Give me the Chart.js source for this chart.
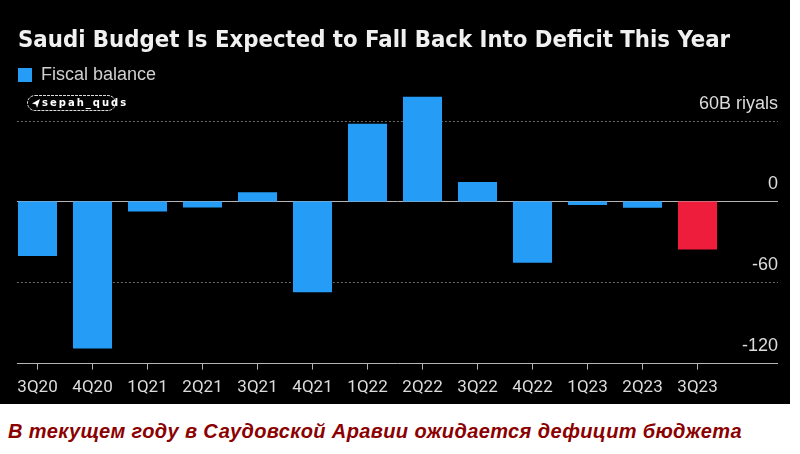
<!DOCTYPE html>
<html>
<head>
<meta charset="utf-8">
<script src="https://cdn.jsdelivr.net/npm/chart.js@4/dist/chart.umd.min.js"></script>
<style>
  body { margin: 0; background: #fff; width: 800px; height: 454px; overflow: hidden; position: relative; }
  #box { position: absolute; left: 0; top: 0; width: 790px; height: 404px; background: #000; }
  #title { position: absolute; left: 18px; top: 25px; line-height: 24px; font: bold 23.7px 'DejaVu Sans Condensed', 'DejaVu Sans', sans-serif; color: #f0f0f0; white-space: nowrap; }
  #caption { position: absolute; left: 8px; top: 420px; line-height: 20px; font: italic bold 20px 'Liberation Sans', Arial, sans-serif; letter-spacing: 0.38px; color: #8b0000; white-space: nowrap; }
</style>
</head>
<body>
<div id="box">
  <canvas id="myChart" width="790" height="404"></canvas>
</div>
<div id="title">Saudi Budget Is Expected to Fall Back Into Deficit This Year</div>
<div id="caption">В текущем году в Саудовской Аравии ожидается дефицит бюджета</div>
<script>
// quarterly fiscal balance, billion riyals
let quarters = ["3Q20", "4Q20", "1Q21", "2Q21", "3Q21", "4Q21", "1Q22", "2Q22", "3Q22", "4Q22", "1Q23", "2Q23", "3Q23"];
let balance = [-40.7, -109.5, -7.4, -4.5, 6.9, -67.7, 57.8, 78, 14.4, -45.6, -2.7, -4.7, -35.7];
let yTicks = [-120, -60, 0, 60];
let seriesName = "Fiscal balance";
let estimateQuarter = "3Q23";

const blue = "#259cf5";
const red = "#ee1d3c";
const axisFont = "Roboto, 'Liberation Sans', Arial, sans-serif";

// horizontal rules + bottom axis, drawn under the bars
const rulesPlugin = {
  id: "rules",
  beforeDatasetsDraw(chart) {
    const ctx = chart.ctx;
    const x = chart.scales.x, y = chart.scales.y;
    const step = x.getPixelForValue(1) - x.getPixelForValue(0);
    const x0 = x.getPixelForValue(0) - step * 0.375;
    const x1 = chart.chartArea.right - 2;
    ctx.save();
    yTicks.forEach((v) => {
      const py = Math.round(y.getPixelForValue(v)) + 0.5;
      ctx.beginPath();
      if (v === 0 || v === yTicks[0]) {
        ctx.setLineDash([]);
        ctx.strokeStyle = "#b5b5b5";
      } else {
        ctx.setLineDash([2, 2]);
        ctx.strokeStyle = "#6a6a6a";
      }
      ctx.lineWidth = 1;
      ctx.moveTo(x0, py);
      ctx.lineTo(x1, py);
      ctx.stroke();
    });
    ctx.restore();
  }
};

// channel tag under the legend
const tagPlugin = {
  id: "tag",
  afterDraw(chart) {
    const ctx = chart.ctx;
    ctx.save();
    ctx.strokeStyle = "#ddd";
    ctx.lineWidth = 1;
    ctx.setLineDash([3, 1]);
    ctx.beginPath();
    ctx.roundRect(27.5, 95.5, 88, 15, 7.5);
    ctx.stroke();
    ctx.setLineDash([]);
    ctx.fillStyle = "#fff";
    ctx.beginPath();
    ctx.moveTo(40, 99); ctx.lineTo(32, 103.5); ctx.lineTo(36, 104.5); ctx.lineTo(37, 108); ctx.closePath();
    ctx.fill();
    ctx.font = "bold 10px 'DejaVu Sans', sans-serif";
    ctx.letterSpacing = "2px";
    ctx.textBaseline = "middle";
    ctx.fillText("sepah_quds", 42, 103.5);
    ctx.restore();
  }
};

var ctx = document.getElementById("myChart").getContext("2d");
var myChart = new Chart(ctx, {
  type: "bar",
  data: {
    labels: [...quarters, ""],
    datasets: [{
      label: seriesName,
      data: balance,
      backgroundColor: (c) => (quarters[c.dataIndex] === estimateQuarter ? red : blue),
      borderWidth: 0,
      barPercentage: 0.71,
      categoryPercentage: 1
    }]
  },
  options: {
    responsive: false,
    animation: false,
    layout: { padding: { left: 10, right: 10, top: 58, bottom: -2 } },
    plugins: {
      title: { display: false },
      tooltip: { enabled: false },
      legend: {
        align: "start",
        labels: {
          boxWidth: 14,
          boxHeight: 14,
          padding: 8,
          color: "#d0d0d0",
          font: { family: "'Liberation Sans', Arial, sans-serif", size: 18 }
        }
      }
    },
    scales: {
      x: {
        offset: true,
        border: { display: false },
        grid: {
          offset: false,
          drawOnChartArea: false,
          tickLength: 7,
          color: (c) => (c.index < quarters.length ? "#b5b5b5" : "transparent")
        },
        ticks: {
          color: "#dcdcdc",
          padding: 8,
          maxRotation: 0,
          autoSkip: false,
          font: { family: axisFont, size: 17 }
        }
      },
      y: {
        position: "right",
        min: -120,
        max: 80,
        border: { display: false },
        grid: { display: false, drawTicks: false },
        afterBuildTicks: (axis) => {
          axis.ticks = yTicks.map((v) => ({ value: v }));
        },
        ticks: {
          mirror: true,
          padding: -2,
          labelOffset: -17,
          color: "#dcdcdc",
          font: { family: "'Liberation Sans', Arial, sans-serif", size: 18 },
          callback: (v) => (v === 60 ? "60B riyals" : v)
        }
      }
    }
  },
  plugins: [rulesPlugin, tagPlugin]
});
</script>
</body>
</html>
